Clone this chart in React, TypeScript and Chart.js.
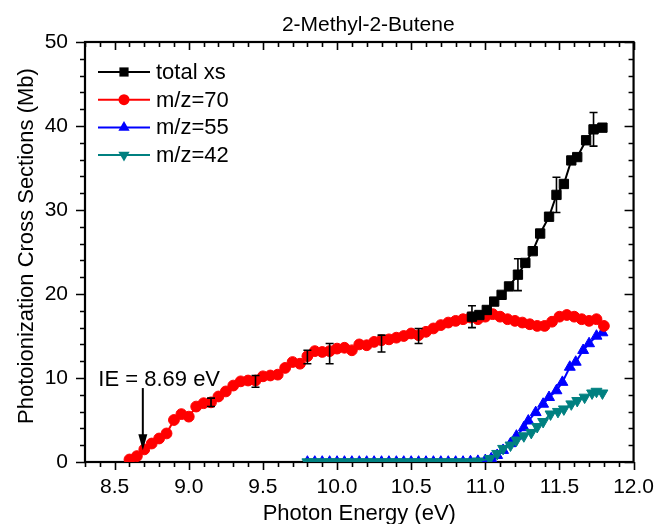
import React, { useEffect, useRef } from 'react';
import { Chart, registerables } from 'chart.js';

Chart.register(...registerables);

const FONT = '"Liberation Sans", Arial, Helvetica, sans-serif';

// ---------- data ----------
const chartTitle = '2-Methyl-2-Butene';
const xAxisTitle = 'Photon Energy (eV)';
const yAxisTitle = 'Photoionization Cross Sections (Mb)';
const xTickValues = [8.5, 9.0, 9.5, 10.0, 10.5, 11.0, 11.5, 12.0];
const yTickValues = [0, 10, 20, 30, 40, 50];

const totalLabel = 'total xs';
const totalEnergy = [10.91, 10.96, 11.01, 11.06, 11.11, 11.16, 11.22, 11.27, 11.32, 11.37, 11.43, 11.48, 11.53, 11.58, 11.62, 11.68, 11.73, 11.79];
const totalValues = [17.3, 17.5, 18.1, 19.1, 19.9, 20.9, 22.3, 23.7, 25.1, 27.2, 29.2, 31.8, 33.1, 35.9, 36.3, 38.3, 39.6, 39.8];

// error bars of the total cross section
const totalErrEnergy = [9.15, 9.45, 9.80, 9.95, 10.30, 10.55, 10.91, 11.22, 11.48, 11.73];
const totalErrValue = [7.1, 9.6, 12.5, 12.9, 14.1, 15.0, 17.3, 22.3, 31.8, 39.6];
const totalErrSize = [0.5, 0.7, 0.8, 1.2, 1.0, 0.9, 1.3, 1.9, 2.1, 2.0];

const m70Label = 'm/z=70';
const m70Energy = [
  8.60, 8.65, 8.70, 8.75, 8.80, 8.85, 8.90, 8.95, 9.00, 9.05,
  9.10, 9.15, 9.20, 9.25, 9.30, 9.35, 9.40, 9.45, 9.50, 9.55,
  9.60, 9.65, 9.70, 9.75, 9.80, 9.85, 9.90, 9.95, 10.00, 10.05,
  10.10, 10.15, 10.20, 10.25, 10.30, 10.35, 10.40, 10.45, 10.50, 10.55,
  10.60, 10.65, 10.70, 10.75, 10.80, 10.85, 10.90, 10.95, 11.00, 11.05,
  11.10, 11.15, 11.20, 11.25, 11.30, 11.35, 11.40, 11.45, 11.50, 11.55,
  11.60, 11.65, 11.70, 11.75, 11.80,
];
const m70Values = [
  0.3, 0.7, 1.5, 2.2, 2.8, 3.4, 5.0, 5.7, 5.4, 6.6,
  7.0, 7.1, 7.8, 8.4, 9.1, 9.6, 9.7, 9.7, 10.2, 10.3,
  10.4, 11.2, 11.9, 11.7, 12.6, 13.2, 13.1, 13.2, 13.5, 13.6,
  13.3, 14.0, 13.9, 14.3, 14.5, 14.6, 14.8, 15.0, 15.3, 15.1,
  15.5, 15.9, 16.3, 16.6, 16.8, 17.0, 17.2, 17.0, 17.3, 17.6,
  17.3, 17.0, 16.8, 16.6, 16.4, 16.2, 16.2, 16.7, 17.3, 17.5,
  17.3, 17.0, 16.8, 17.0, 16.2,
];

const m55Label = 'm/z=55';
const m55Energy = [
  9.80, 9.85, 9.90, 9.95, 10.00, 10.05, 10.10, 10.15, 10.20, 10.25,
  10.30, 10.35, 10.40, 10.45, 10.50, 10.55, 10.60, 10.65, 10.70, 10.75,
  10.80, 10.85, 10.90, 10.95, 11.00, 11.04, 11.08, 11.12, 11.17, 11.21,
  11.26, 11.29, 11.34, 11.39, 11.43, 11.48, 11.52, 11.57, 11.61, 11.66,
  11.70, 11.75, 11.79,
];
const m55Values = [
  0, 0, 0, 0, 0, 0, 0, 0, 0, 0,
  0, 0, 0, 0, 0, 0, 0, 0, 0, 0,
  0, 0, 0.05, 0.1, 0.2, 0.4, 0.8, 1.4, 2.2, 3.1,
  4.1, 4.9, 5.9, 6.9, 7.7, 8.5, 9.5, 11.3, 11.9, 13.3,
  14.1, 15.0, 15.4,
];

const m42Label = 'm/z=42';
const m42Energy = [
  9.80, 9.85, 9.90, 9.95, 10.00, 10.05, 10.10, 10.15, 10.20, 10.25,
  10.30, 10.35, 10.40, 10.45, 10.50, 10.55, 10.60, 10.65, 10.70, 10.75,
  10.80, 10.85, 10.90, 10.95, 11.03, 11.08, 11.12, 11.17, 11.21, 11.26,
  11.31, 11.35, 11.39, 11.44, 11.49, 11.53, 11.58, 11.62, 11.67, 11.72,
  11.75, 11.79,
];
const m42Values = [
  0, 0, 0, 0, 0, 0, 0, 0, 0, 0,
  0, 0, 0, 0, 0, 0, 0, 0, 0, 0,
  0, 0, 0, 0.1, 0.4, 1.0, 1.6, 2.0, 2.6, 3.1,
  3.5, 4.2, 4.8, 5.7, 6.0, 6.3, 6.9, 7.3, 7.7, 8.2,
  8.4, 8.2,
];

// annotation
const ieText = 'IE = 8.69 eV';
const ieEnergy = 8.69;
const ieTextPos = { x: 8.39, y: 9.1 };
const ieArrowFrom = 8.8;
const ieArrowTo = 1.4;

const toXY = (xs: number[], ys: number[]) => xs.map((x, i) => ({ x, y: ys[i] }));

// ---------- plugins ----------
function drawMarker(ctx: CanvasRenderingContext2D, style: string, x: number, y: number, r: number, color: string) {
  ctx.save();
  ctx.fillStyle = color;
  ctx.beginPath();
  if (style === 'rect') {
    const h = r * Math.SQRT1_2;
    ctx.rect(x - h, y - h, 2 * h, 2 * h);
  } else if (style === 'circle') {
    ctx.arc(x, y, r, 0, Math.PI * 2);
  } else if (style === 'triangle') {
    ctx.moveTo(x, y - r);
    ctx.lineTo(x + r * 0.866, y + r * 0.5);
    ctx.lineTo(x - r * 0.866, y + r * 0.5);
    ctx.closePath();
  } else if (style === 'down') {
    ctx.moveTo(x, y + r);
    ctx.lineTo(x + r * 0.866, y - r * 0.5);
    ctx.lineTo(x - r * 0.866, y - r * 0.5);
    ctx.closePath();
  }
  ctx.fill();
  ctx.restore();
}

const framePlugin = {
  id: 'frame',
  beforeDatasetsDraw(chart: any) {
    const { ctx, chartArea: a, scales } = chart;
    const xs = scales.x;
    const ys = scales.y;
    ctx.save();
    ctx.strokeStyle = '#000';
    ctx.lineWidth = 1.6;
    ctx.beginPath();
    for (let i = 0; i <= 37; i++) {
      const v = 8.3 + i * 0.1;
      const major = i % 5 === 2;
      const len = major ? 8 : 5;
      const px = Math.round(xs.getPixelForValue(v)) + 0.5;
      ctx.moveTo(px, a.bottom);
      ctx.lineTo(px, a.bottom + len);
      ctx.moveTo(px, a.top);
      ctx.lineTo(px, a.top + len);
    }
    for (let i = 0; i <= 25; i++) {
      const v = i * 2;
      const major = i % 5 === 0;
      const len = major ? 9 : 5;
      const py = Math.round(ys.getPixelForValue(v)) + 0.5;
      ctx.moveTo(a.left - len, py);
      ctx.lineTo(a.left, py);
      ctx.moveTo(a.right - len, py);
      ctx.lineTo(a.right, py);
    }
    ctx.stroke();
    ctx.lineWidth = 2.2;
    ctx.strokeRect(a.left, a.top, a.right - a.left, a.bottom - a.top);
    ctx.restore();
  },
};

const overlayPlugin = {
  id: 'overlay',
  afterDatasetsDraw(chart: any) {
    const { ctx, chartArea: a, scales } = chart;
    const xs = scales.x;
    const ys = scales.y;
    ctx.save();
    // error bars
    ctx.strokeStyle = '#000';
    ctx.lineWidth = 1.6;
    ctx.beginPath();
    totalErrEnergy.forEach((e, i) => {
      const px = xs.getPixelForValue(e);
      const y1 = ys.getPixelForValue(totalErrValue[i] + totalErrSize[i]);
      const y2 = ys.getPixelForValue(totalErrValue[i] - totalErrSize[i]);
      ctx.moveTo(px, y1);
      ctx.lineTo(px, y2);
      ctx.moveTo(px - 4, y1);
      ctx.lineTo(px + 4, y1);
      ctx.moveTo(px - 4, y2);
      ctx.lineTo(px + 4, y2);
    });
    ctx.stroke();

    // IE annotation
    ctx.fillStyle = '#000';
    ctx.font = `22px ${FONT}`;
    ctx.textAlign = 'left';
    ctx.textBaseline = 'alphabetic';
    ctx.fillText(ieText, xs.getPixelForValue(ieTextPos.x), ys.getPixelForValue(ieTextPos.y));
    const ax = xs.getPixelForValue(ieEnergy);
    const ay1 = ys.getPixelForValue(ieArrowFrom);
    const ay2 = ys.getPixelForValue(ieArrowTo);
    ctx.lineWidth = 2;
    ctx.beginPath();
    ctx.moveTo(ax, ay1);
    ctx.lineTo(ax, ay2 - 12);
    ctx.stroke();
    ctx.beginPath();
    ctx.moveTo(ax, ay2);
    ctx.lineTo(ax - 4.5, ay2 - 16);
    ctx.lineTo(ax + 4.5, ay2 - 16);
    ctx.closePath();
    ctx.fill();

    // legend
    const rows = [
      { label: totalLabel, color: '#000000', style: 'rect', r: 6.5 },
      { label: m70Label, color: '#ff0000', style: 'circle', r: 5.5 },
      { label: m55Label, color: '#0000ff', style: 'triangle', r: 6.5 },
      { label: m42Label, color: '#008080', style: 'down', r: 6.5 },
    ];
    const lx1 = a.left + 13;
    const lx2 = a.left + 65;
    rows.forEach((row, i) => {
      const y = a.top + 30 + i * 27.7;
      ctx.strokeStyle = row.color;
      ctx.lineWidth = 2;
      ctx.beginPath();
      ctx.moveTo(lx1, y);
      ctx.lineTo(lx2, y);
      ctx.stroke();
      drawMarker(ctx, row.style, (lx1 + lx2) / 2, y, row.r, row.color);
      ctx.fillStyle = '#000';
      ctx.font = `22px ${FONT}`;
      ctx.textBaseline = 'middle';
      ctx.textAlign = 'left';
      ctx.fillText(row.label, lx2 + 6, y + 1);
    });

    // titles
    ctx.fillStyle = '#000';
    ctx.textAlign = 'center';
    ctx.textBaseline = 'alphabetic';
    ctx.font = `21px ${FONT}`;
    const cx = (a.left + a.right) / 2;
    ctx.fillText(chartTitle, cx + 9, 31);
    ctx.font = `22px ${FONT}`;
    ctx.fillText(xAxisTitle, cx, 520);
    ctx.save();
    ctx.translate(33, (a.top + a.bottom) / 2 - 6);
    ctx.rotate(-Math.PI / 2);
    ctx.fillText(yAxisTitle, 0, 0);
    ctx.restore();
    ctx.restore();
  },
};

export default function App() {
  const canvasRef = useRef<HTMLCanvasElement | null>(null);

  useEffect(() => {
    document.body.style.margin = '0';
    const canvas = canvasRef.current;
    if (!canvas) return;
    const lineBase = { showLine: true, tension: 0, borderWidth: 2, pointBorderWidth: 1 };
    const chart = new Chart(canvas, {
      type: 'scatter',
      data: {
        datasets: [
          {
            ...lineBase,
            label: totalLabel,
            data: toXY(totalEnergy, totalValues),
            borderColor: '#000000',
            backgroundColor: '#000000',
            pointStyle: 'rect',
            pointRadius: 6.6,
            order: 0,
          },
          {
            ...lineBase,
            label: m70Label,
            data: toXY(m70Energy, m70Values),
            borderColor: '#ff0000',
            backgroundColor: '#ff0000',
            pointStyle: 'circle',
            pointRadius: 5.4,
            order: 1,
          },
          {
            ...lineBase,
            label: m55Label,
            data: toXY(m55Energy, m55Values),
            borderColor: '#0000ff',
            backgroundColor: '#0000ff',
            pointStyle: 'triangle',
            pointRadius: 6.3,
            order: 3,
          },
          {
            ...lineBase,
            label: m42Label,
            data: toXY(m42Energy, m42Values),
            borderColor: '#008080',
            backgroundColor: '#008080',
            pointStyle: 'triangle',
            pointRotation: 180,
            pointRadius: 6.3,
            order: 2,
          },
        ] as any,
      },
      options: {
        responsive: false,
        animation: false,
        events: [],
        layout: { padding: { left: 0, right: 25, top: 42, bottom: 0 } },
        plugins: {
          legend: { display: false },
          tooltip: { enabled: false },
          title: { display: false },
        },
        scales: {
          x: {
            type: 'linear',
            min: 8.3,
            max: 12.0,
            afterFit: (s: any) => {
              s.height = 62;
            },
            afterBuildTicks: (s: any) => {
              s.ticks = xTickValues.map((v) => ({ value: v }));
            },
            grid: { display: false, drawTicks: true, tickLength: 8 },
            border: { display: false },
            ticks: {
              color: '#000',
              font: { size: 21, family: FONT },
              padding: 5,
              maxRotation: 0,
              autoSkip: false,
              callback: (v: any) => Number(v).toFixed(1),
            },
          },
          y: {
            type: 'linear',
            min: 0,
            max: 50,
            afterFit: (s: any) => {
              s.width = 85;
            },
            afterBuildTicks: (s: any) => {
              s.ticks = yTickValues.map((v) => ({ value: v }));
            },
            grid: { display: false, drawTicks: true, tickLength: 9 },
            border: { display: false },
            ticks: {
              color: '#000',
              font: { size: 21, family: FONT },
              padding: 8,
              callback: (v: any) => String(v),
            },
          },
        },
      } as any,
      plugins: [framePlugin, overlayPlugin],
    });
    return () => chart.destroy();
  }, []);

  return (
    <div style={{ width: 659, height: 524, background: '#fff' }}>
      <canvas ref={canvasRef} width={659} height={524} style={{ display: 'block' }} />
    </div>
  );
}
